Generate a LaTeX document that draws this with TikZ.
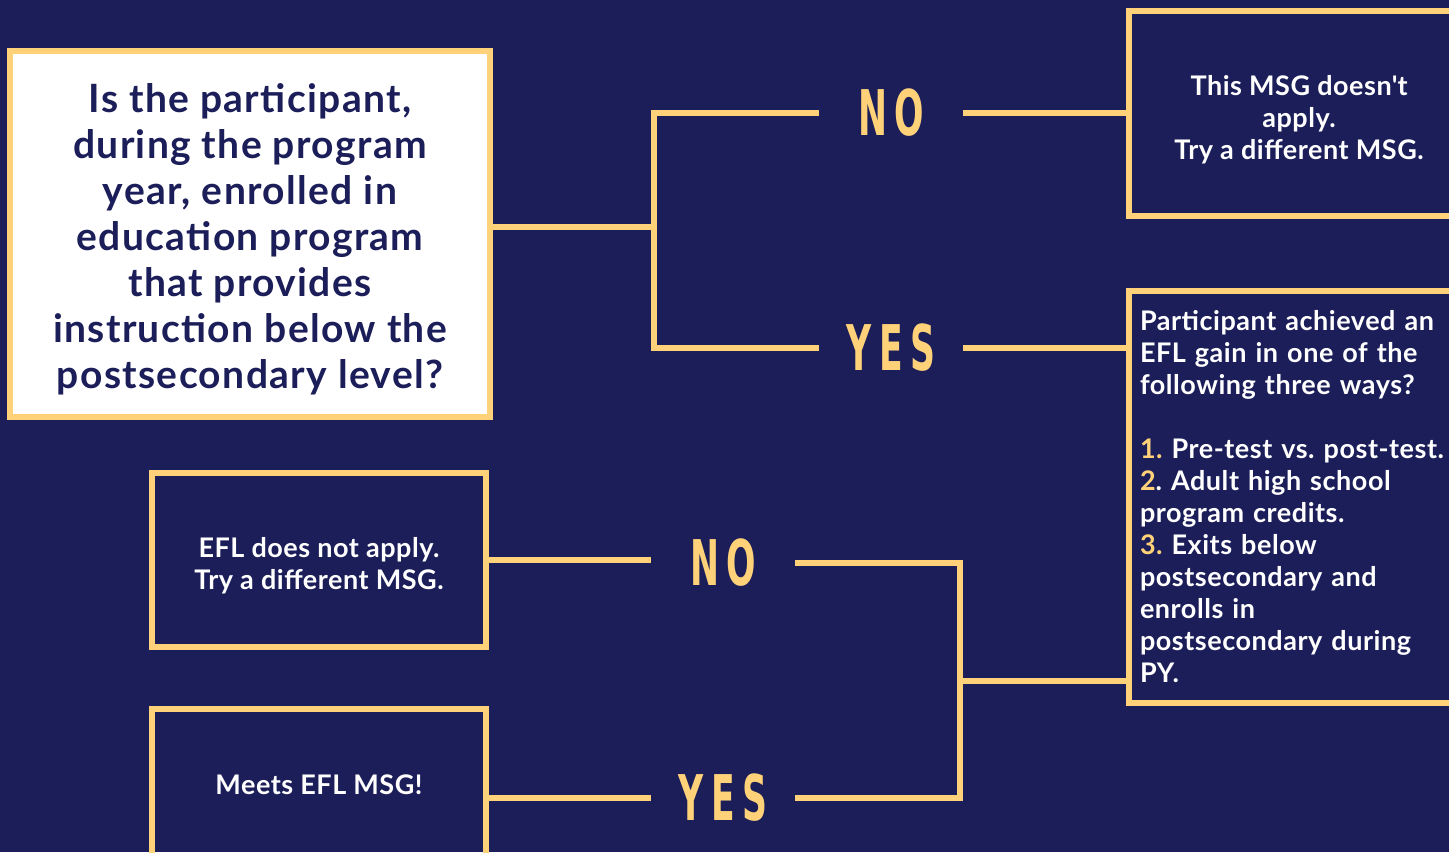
\documentclass[tikz,border=0pt]{standalone}
\usepackage{fontspec}
\setmainfont{Lato}
\newfontfamily\yesnofont{DejaVu Sans}[FakeStretch=0.55,LetterSpace=12]
\definecolor{navybg}{RGB}{27,30,88}
\definecolor{gold}{RGB}{255,210,122}
\tikzset{
	box/.style={draw=gold, line width=6pt, rectangle, inner sep=0pt},
	answer/.style={text=gold, font=\yesnofont\bfseries\fontsize{63}{63}\selectfont, minimum width=144pt, inner sep=0pt},
	link/.style={draw=gold, line width=6pt},
	whitetext/.style={text=white, font=\bfseries\fontsize{27}{32}\selectfont\addfontfeatures{LetterSpace=2}}
}
\frenchspacing
\begin{document}
\begin{tikzpicture}[x=1pt, y=-1pt, line join=miter]
				\clip (0,0) rectangle (1449,852);
				\fill[navybg] (0,0) rectangle (1449,852);
				\path (654,227) coordinate (fork1)
				(960,681) coordinate (fork2);
				\node[box, fill=white, minimum width=480pt, minimum height=366pt, align=center, text=navybg, font=\bfseries\fontsize{39}{46}\selectfont\addfontfeatures{LetterSpace=3.5}] (q) at (250,234) {\rule{0pt}{40pt}Is the participant,\\ during the program\\ year, enrolled in\\ education program\\ that provides\\ instruction below the\\ postsecondary level?};
				\node[box, whitetext, anchor=west, minimum width=340pt, minimum height=205pt, align=center] (note) at (1126,113.5) {\rule{0pt}{32pt}This MSG doesn\textquotesingle t\\ apply.\\ Try a different MSG.};
				\node[box, whitetext, anchor=west, minimum height=412pt, text width=325pt, inner xsep=11pt, align=left] (ways) at (1126,497) {Participant achieved an\\ EFL gain in one of the\\ following three ways?\\[32pt] \textcolor{gold}{1.} Pre-test vs. post-test.\\ \textcolor{gold}{2}. Adult high school\\ program credits.\\ \textcolor{gold}{3.} Exits below\\ postsecondary and\\ enrolls in\\ postsecondary during\\ PY.};
				\node[box, whitetext, minimum width=334pt, minimum height=174pt, align=center] (efl) at (319,560) {\rule{0pt}{32pt}EFL does not apply.\\ Try a different MSG.};
				\node[box, whitetext, minimum width=334pt, minimum height=152pt] (meets) at (319,785) {Meets EFL MSG!};
				\node[answer] (no1) at (891,113) {NO};
				\node[answer] (yes1) at (891,348) {YES};
				\node[answer] (no2) at (723,563) {NO};
				\node[answer] (yes2) at (723,798) {YES};
				\draw[link] (q.east |- fork1) -- (fork1);
				\draw[link] (no1.west) -| (fork1) |- (yes1.west);
				\draw[link] (no1.east) -- (no1.east -| note.west);
				\draw[link] (yes1.east) -- (yes1.east -| ways.west);
				\draw[link] (efl.east) -- (efl.east -| no2.west);
				\draw[link] (no2.east) -| (fork2) |- (yes2.east);
				\draw[link] (fork2) -- (fork2 -| ways.west);
				\draw[link] (yes2.west) -- (yes2.west -| meets.east);
			\end{tikzpicture}
\end{document}
